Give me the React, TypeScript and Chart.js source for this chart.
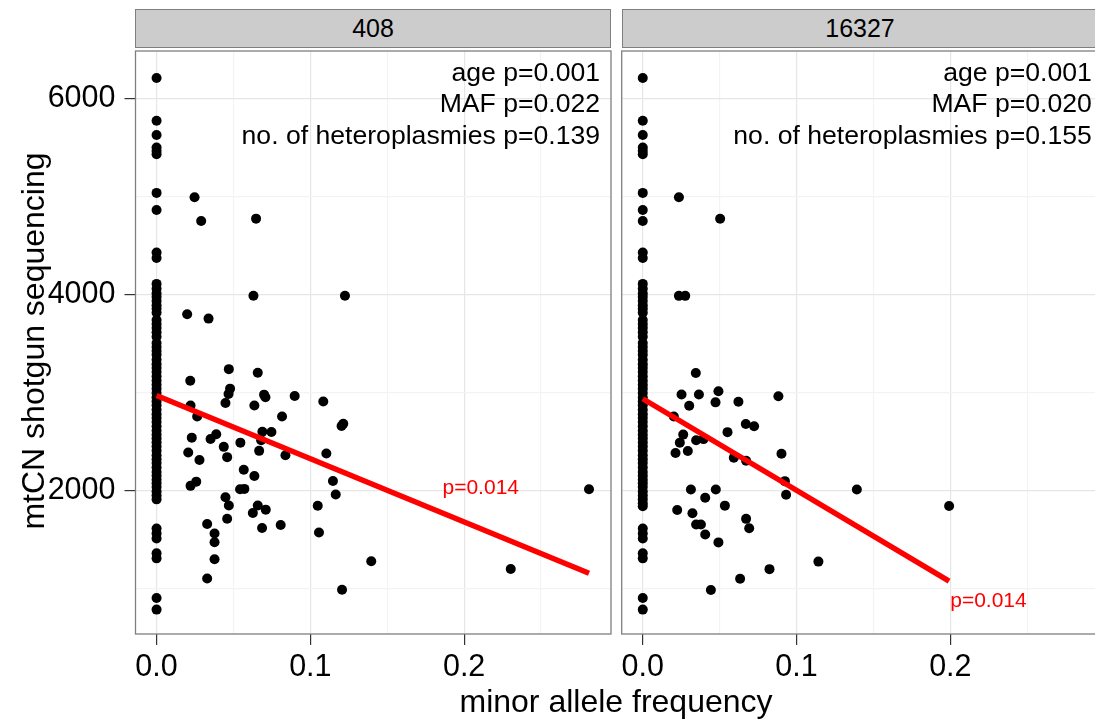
import React, { useEffect, useRef } from 'react';
import { Chart, registerables } from 'chart.js';
Chart.register(...registerables);

const FONT = '"Liberation Sans", Arial, Helvetica, sans-serif';

// ---- facet labels, axis titles, ticks ----
const panelLabels = ['408', '16327'];
const xTitle = 'minor allele frequency';
const yTitle = 'mtCN shotgun sequencing';
const xTicks = [0, 0.05, 0.1, 0.15, 0.2, 0.25];
const xMajor = [0, 0.1, 0.2];
const yTicks = [1000, 2000, 3000, 4000, 5000, 6000];
const yMajor = [2000, 4000, 6000];
const xRange = [-0.0137, 0.2955];
const yRange = [536, 6486];

// ---- panel 408 ----
const zeroMafCN408 = [
  6210, 5774, 5628, 5501, 5466, 5433, 5038, 4863, 4430, 4373, 4109, 4059, 4010, 3975, 3935,
  3890, 3855, 3815, 3740, 3700, 3660, 3615, 3570, 3505, 3465, 3425, 3385, 3335, 3290, 3250,
  3210, 3165, 3120, 3080, 3040, 2995, 2950, 2910, 2870, 2825, 2780, 2740, 2700, 2655, 2610,
  2570, 2530, 2490, 2450, 2405, 2360, 2320, 2280, 2235, 2190, 2150, 2110, 2075, 2035, 1990,
  1950, 1910, 1612, 1561, 1511, 1359, 1308, 903, 785,
];
const maf408 = [
  0.0247, 0.029, 0.0647, 0.063, 0.1225, 0.0199, 0.0338, 0.047, 0.0658, 0.0219, 0.0478, 0.0468,
  0.0448, 0.0699, 0.0708, 0.0636, 0.0898, 0.1084, 0.0221, 0.0264, 0.0816, 0.1214, 0.1203, 0.0688,
  0.0747, 0.068, 0.0388, 0.0351, 0.0229, 0.0545, 0.0437, 0.0667, 0.0838, 0.1104, 0.0206, 0.0459,
  0.0279, 0.0567, 0.0636, 0.1147, 0.0258, 0.0221, 0.0543, 0.0571, 0.2812, 0.1165, 0.0448, 0.047,
  0.1048, 0.0658, 0.071, 0.0626, 0.0459, 0.0329, 0.0807, 0.0686, 0.1056, 0.0377, 0.0377, 0.0377,
  0.1396, 0.2303, 0.0329, 0.1206,
];
const cn408 = [
  4994, 4751, 4775, 3988, 3988, 3799, 3755, 3239, 3202, 3121, 3040, 2985,
  2894, 2979, 2952, 2868, 2965, 2908, 2868, 2756, 2756, 2682, 2658, 2600,
  2597, 2513, 2574, 2527, 2540, 2489, 2446, 2405, 2361, 2378, 2388, 2341,
  2311, 2213, 2149, 2098, 2091, 2048, 2013, 2017, 2013, 1959, 1932, 1848,
  1845, 1848, 1805, 1770, 1713, 1659, 1649, 1618, 1572, 1561, 1473, 1298,
  1278, 1200, 1102, 987,
];
const fitX408 = [0, 0.2812];
const fitY408 = [2969, 1156];
const stats408 = ['age p=0.001', 'MAF p=0.022', 'no. of heteroplasmies p=0.139'];

// ---- panel 16327 ----
const zeroMafCN16327 = [
  6210, 5774, 5628, 5501, 5466, 5433, 5038, 4863, 4751, 4430, 4373, 4109, 4059, 4010, 3975,
  3935, 3890, 3855, 3815, 3740, 3700, 3660, 3615, 3570, 3505, 3465, 3425, 3385, 3335, 3290,
  3250, 3210, 3165, 3120, 3080, 3040, 2995, 2950, 2910, 2870, 2825, 2780, 2740, 2700, 2655,
  2610, 2570, 2530, 2490, 2450, 2405, 2360, 2320, 2280, 2235, 2190, 2150, 2110, 2075, 2035,
  1990, 1950, 1910, 1870, 1840, 1612, 1561, 1511, 1359, 1308, 903, 785,
];
const maf16327 = [
  0.0235, 0.0503, 0.0235, 0.0276, 0.0345, 0.0252, 0.0365, 0.0492, 0.0302, 0.0473, 0.0622, 0.0882,
  0.0202, 0.067, 0.0724, 0.0551, 0.0263, 0.0241, 0.0347, 0.0395, 0.0293, 0.0213, 0.0902, 0.0592,
  0.0672, 0.0924, 0.0932, 0.0313, 0.0475, 0.1392, 0.0406, 0.0534, 0.1992, 0.0224, 0.0323, 0.0347,
  0.0378, 0.0672, 0.0692, 0.0406, 0.0492, 0.1142, 0.0824, 0.0633, 0.0443,
];
const cn16327 = [
  4994, 4774, 3987, 3987, 3200, 2981, 2981, 3014, 2866, 2900, 2907, 2963,
  2755, 2680, 2657, 2596, 2571, 2489, 2513, 2525, 2403, 2383, 2376, 2335,
  2305, 2096, 1957, 2011, 2011, 2011, 1927, 1846, 1843, 1802, 1768, 1653,
  1653, 1711, 1616, 1552, 1471, 1275, 1198, 1099, 985,
];
const fitX16327 = [0, 0.1992];
const fitY16327 = [2937, 1076];
const stats16327 = ['age p=0.001', 'MAF p=0.020', 'no. of heteroplasmies p=0.155'];

// ---- in-panel labels ----
const pLabel = 'p=0.014';
const pLabelX = [0.2108, 0.2248];
const pLabelY = [2025, 866];
const statX = [0.2884, 0.292];

const near = (a: number, list: number[]) => list.some((v) => Math.abs(v - a) < 1e-9);

function panelPlugin(p: number) {
  const lines = p === 0 ? stats408 : stats16327;
  return {
    id: 'panelDecor' + p,
    afterDatasetsDraw(chart: any) {
      const { ctx, chartArea: a, scales } = chart;
      ctx.save();
      ctx.font = `26.6px ${FONT}`;
      ctx.fillStyle = '#000';
      ctx.textAlign = 'right';
      ctx.textBaseline = 'alphabetic';
      const sx = scales.x.getPixelForValue(statX[p]);
      lines.forEach((t, i) => ctx.fillText(t, sx, a.top + 29.5 + i * 31.5));
      ctx.font = `21px ${FONT}`;
      ctx.fillStyle = '#ff0000';
      ctx.textAlign = 'center';
      ctx.textBaseline = 'middle';
      ctx.fillText(pLabel, scales.x.getPixelForValue(pLabelX[p]), scales.y.getPixelForValue(pLabelY[p]));
      ctx.strokeStyle = '#7f7f7f';
      ctx.lineWidth = 1.3;
      ctx.strokeRect(a.left, a.top, a.right - a.left, a.bottom - a.top);
      ctx.restore();
    },
  };
}

function buildConfig(p: number, yWidth: number, padding: any): any {
  const zero = p === 0 ? zeroMafCN408 : zeroMafCN16327;
  const maf = p === 0 ? maf408 : maf16327;
  const cn = p === 0 ? cn408 : cn16327;
  const fx = p === 0 ? fitX408 : fitX16327;
  const fy = p === 0 ? fitY408 : fitY16327;
  const points = [
    ...zero.map((v) => ({ x: 0, y: v })),
    ...maf.map((x, i) => ({ x, y: cn[i] })),
  ];
  const fit = fx.map((x, i) => ({ x, y: fy[i] }));
  const showY = yWidth > 0;
  return {
    type: 'scatter',
    data: {
      datasets: [
        {
          data: fit,
          showLine: true,
          borderColor: '#ff0000',
          backgroundColor: '#ff0000',
          borderWidth: 5.4,
          pointRadius: 0,
          borderCapStyle: 'butt',
          order: 0,
        },
        {
          data: points,
          backgroundColor: '#000000',
          borderWidth: 0,
          pointRadius: 5,
          order: 1,
        },
      ],
    },
    options: {
      animation: false,
      responsive: false,
      events: [],
      layout: { padding },
      plugins: { legend: { display: false }, tooltip: { enabled: false } },
      scales: {
        x: {
          type: 'linear',
          min: xRange[0],
          max: xRange[1],
          afterBuildTicks: (s: any) => {
            s.ticks = xTicks.map((v) => ({ value: v }));
          },
          afterFit: (s: any) => {
            s.height = 85;
            s.paddingLeft = 0;
            s.paddingRight = 0;
          },
          border: { display: false },
          grid: {
            color: (c: any) => (near(c.tick.value, xMajor) ? '#e6e6e6' : '#f3f3f3'),
            tickColor: (c: any) => (near(c.tick.value, xMajor) ? '#333333' : 'rgba(0,0,0,0)'),
            tickLength: 11,
            lineWidth: 1.2,
          },
          ticks: {
            font: { family: FONT, size: 30.5 },
            color: '#000',
            padding: 4,
            maxRotation: 0,
            autoSkip: false,
            callback: (v: any) => (near(v, xMajor) ? Number(v).toFixed(1) : ''),
          },
        },
        y: {
          type: 'linear',
          min: yRange[0],
          max: yRange[1],
          afterBuildTicks: (s: any) => {
            s.ticks = yTicks.map((v) => ({ value: v }));
          },
          afterFit: (s: any) => {
            s.width = yWidth;
            s.paddingTop = 0;
            s.paddingBottom = 0;
          },
          border: { display: false },
          grid: {
            color: (c: any) => (near(c.tick.value, yMajor) ? '#e6e6e6' : '#f3f3f3'),
            tickColor: (c: any) => (near(c.tick.value, yMajor) ? '#333333' : 'rgba(0,0,0,0)'),
            tickLength: 11,
            lineWidth: 1.2,
            drawTicks: showY,
          },
          ticks: {
            display: showY,
            font: { family: FONT, size: 30.5 },
            color: '#000',
            padding: 9,
            autoSkip: false,
            callback: (v: any) => (near(v, yMajor) ? String(v) : ''),
          },
        },
      },
    },
    plugins: [panelPlugin(p)],
  };
}

const stripStyle = (left: number): React.CSSProperties => ({
  position: 'absolute',
  left,
  top: 9,
  width: 476,
  height: 39,
  boxSizing: 'border-box',
  background: '#cccccc',
  border: '1.3px solid #7f7f7f',
  display: 'flex',
  alignItems: 'center',
  justifyContent: 'center',
  font: `25px ${FONT}`,
  color: '#000',
});

export default function App() {
  const c1 = useRef<HTMLCanvasElement>(null);
  const c2 = useRef<HTMLCanvasElement>(null);
  useEffect(() => {
    const ch1 = new Chart(c1.current as HTMLCanvasElement, buildConfig(0, 135.5, { top: 1.5, left: 0, right: 9, bottom: 0 }));
    const ch2 = new Chart(c2.current as HTMLCanvasElement, buildConfig(1, 0, { top: 1.5, left: 8.7, right: 5.8, bottom: 0 }));
    return () => {
      ch1.destroy();
      ch2.destroy();
    };
  }, []);
  return (
    <div
      style={{
        position: 'absolute',
        left: 0,
        top: 0,
        width: 1095,
        height: 719,
        overflow: 'hidden',
        background: '#fff',
      }}
    >
      <div style={stripStyle(135)}>{panelLabels[0]}</div>
      <div style={stripStyle(622)}>{panelLabels[1]}</div>
      <canvas ref={c1} width={620} height={673} style={{ position: 'absolute', left: 0, top: 46 }} />
      <canvas ref={c2} width={490} height={673} style={{ position: 'absolute', left: 613, top: 46 }} />
      <div
        style={{
          position: 'absolute',
          left: 135,
          width: 962,
          top: 683,
          height: 32,
          lineHeight: '32px',
          textAlign: 'center',
          font: `32px ${FONT}`,
          color: '#000',
          whiteSpace: 'nowrap',
        }}
      >
        {xTitle}
      </div>
      <div
        style={{
          position: 'absolute',
          left: 31 - 300,
          top: 341 - 16,
          width: 600,
          height: 32,
          lineHeight: '32px',
          textAlign: 'center',
          font: `32px ${FONT}`,
          color: '#000',
          whiteSpace: 'nowrap',
          transform: 'rotate(-90deg)',
        }}
      >
        {yTitle}
      </div>
    </div>
  );
}
